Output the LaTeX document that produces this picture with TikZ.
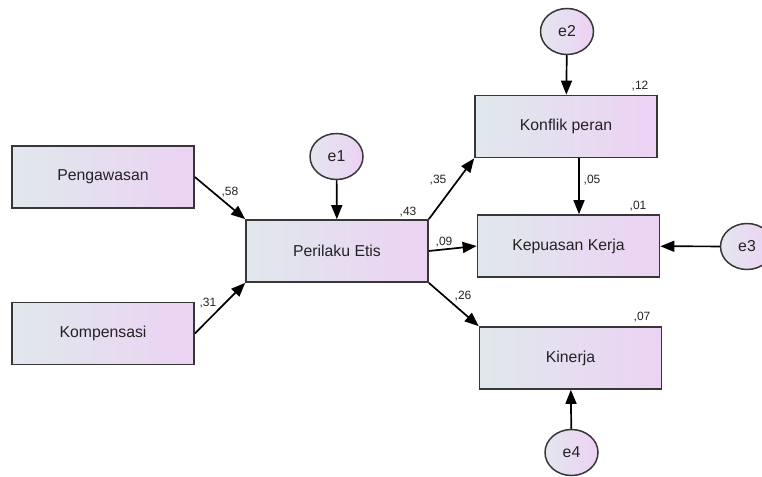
\documentclass[tikz,border=0pt]{standalone}
\usepackage{fontspec}
\setmainfont{Liberation Sans}
\usetikzlibrary{shapes.geometric}
\usetikzlibrary{arrows.meta}

\begin{document}
\begin{tikzpicture}[x=1pt,y=-1pt,
  var/.style={draw=boxline, line width=1.7pt, left color=boxL, right color=boxR,
    minimum width=182pt, minimum height=62pt, inner sep=0pt,
    font=\fontsize{15.8}{17}\selectfont, text=txt},
  err/.style={ellipse, draw=boxline, line width=1.5pt, left color=errL, right color=boxR,
    minimum width=53pt, minimum height=46pt, inner sep=0pt,
    font=\fontsize{15.8}{17}\selectfont, text=txt},
  reg/.style={line width=1.7pt, -{Triangle[length=14pt,width=11pt]}},
  coef/.style={font=\fontsize{12}{13}\selectfont, text=txt, inner sep=0pt}]
\definecolor{boxL}{RGB}{224,232,237}
\definecolor{boxR}{RGB}{236,210,243}
\definecolor{errL}{RGB}{228,230,240}
\definecolor{boxline}{RGB}{55,55,55}
\definecolor{txt}{RGB}{35,35,35}

\useasboundingbox (0,0) rectangle (762,476);

% observed variables
\node[var] (peng) at (103,177) {Pengawasan};
\node[var] (komp) at (103,333.5) {Kompensasi};
\node[var] (etis) at (337,251) {Perilaku Etis};
\node[var] (konf) at (566,126.5) {Konflik peran};
\node[var] (kepu) at (568.5,246) {Kepuasan Kerja};
\node[var] (kin) at (570.5,358) {Kinerja};

% error terms
\node[err] (e1) at (336.5,156.5) {e1};
\node[err] (e2) at (567,31.5) {e2};
\node[err] (e3) at (747,246.5) {e3};
\node[err] (e4) at (571.5,452.5) {e4};

% paths
\draw[reg] (peng.east) -- (etis.north west);
\draw[reg] (komp.east) -- (etis.south west);
\draw[reg] (etis.north east) -- (konf.south west);
\draw[reg] (etis.east) -- (kepu.west);
\draw[reg] (etis.south east) -- (kin.north west);
\draw[reg] ([xshift=13pt]konf.south) -- ([xshift=13pt]konf.south |- kepu.north);

\draw[reg] (e1) -- (etis);
\draw[reg] (e2) -- (konf);
\draw[reg] (e3) -- (kepu);
\draw[reg] (e4) -- (kin);

% estimates
\node[coef] (c58) at (230,192) {,58};
\node[coef] (c31) at (208,303) {,31};
\node[coef] (c43) at (408,212) {,43};
\node[coef] (c35) at (438,180) {,35};
\node[coef] (c09) at (444,242) {,09};
\node[coef] (c12) at (640,86) {,12};
\node[coef] (c05) at (592,180) {,05};
\node[coef] (c01) at (638,206) {,01};
\node[coef] (c26) at (463,296) {,26};
\node[coef] (c07) at (642,317) {,07};

\end{tikzpicture}
\end{document}
